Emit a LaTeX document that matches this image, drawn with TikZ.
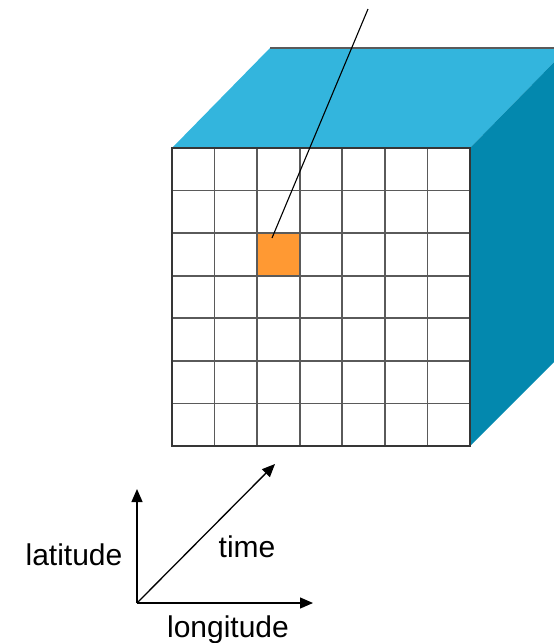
\documentclass[tikz,border=0pt]{standalone}
\usepackage{fontspec}
\setmainfont{Liberation Sans}
\usetikzlibrary{positioning,arrows.meta}
\definecolor{cubetop}{RGB}{51,181,221}
\definecolor{cubeside}{RGB}{3,136,174}
\definecolor{cellorange}{RGB}{255,153,51}
\definecolor{gridgray}{RGB}{90,90,90}

\begin{document}
\begin{tikzpicture}[
        x=1pt, y=-1pt,
        gridline/.style={gridgray, line width=1.6pt},
        rim/.style={draw=gridgray!60!black, line width=1.8pt},
        cellbox/.style={fill=cellorange, minimum size=42.6pt, inner sep=0pt},
        pinline/.style={black, line width=1.1pt},
        axis/.style={-{Triangle[length=13pt,width=11pt]}, black, line width=1.3pt},
        axlbl/.style={font=\fontsize{30}{36}\selectfont, inner sep=0pt, anchor=base},
      ]
        \useasboundingbox (0,0) rectangle (554,643);
        \clip (0,0) rectangle (554,643);

        % Top and side faces
        \fill[cubetop] (172,148) -- (270,48) -- (568,48) -- (470,148) -- cycle;
        \draw[gridgray, line width=1.4pt] (270,48) -- (568,48);
        \fill[cubeside] (470,148) -- (568,48) -- (568,348) -- (470,446) -- cycle;

        % Front face
        \fill[white] (172,148) rectangle (470,446);
        \node[cellbox] (cell) at (279.3,254.4) {};
        \foreach \i in {1,...,6} {
          \draw[gridline] (172+\i*42.57,148) -- (172+\i*42.57,446);
          \draw[gridline] (172,148+\i*42.57) -- (470,148+\i*42.57);
        }
        \draw[rim] (172,148) rectangle (470,446);

        % Pointer line
        \coordinate (pin) at (272,238);
        \coordinate (pinend) at (368,9);
        \draw[pinline] (pin) -- (pinend);

        % Axes
        \coordinate (origin) at (137,603);
        \coordinate (lattip) at (137,489);
        \coordinate (lontip) at (313,603);
        \coordinate (timetip) at (275,464);
        \draw[axis] (origin) -- (lattip);
        \draw[axis] (origin) -- (lontip);
        \draw[axis] (origin) -- (timetip);

        \node[axlbl] (lat) at (74,565) {latitude};
        \node[axlbl] (tim) at (247,557) {time};
        \node[axlbl] (lon) at (228,637) {longitude};
      \end{tikzpicture}
\end{document}
